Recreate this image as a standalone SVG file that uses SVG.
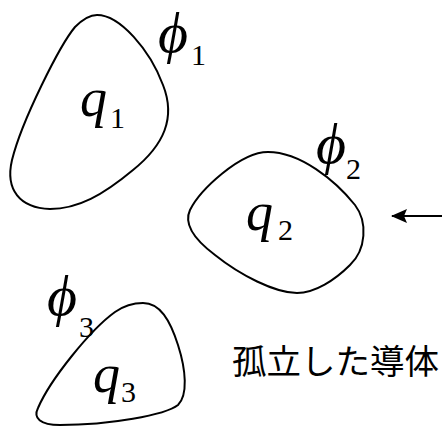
<svg xmlns="http://www.w3.org/2000/svg" width="442" height="426" viewBox="0 0 442 426">
<style>
.shape{fill:none;stroke:#000;stroke-width:2}
.v{font-family:'Liberation Serif','Times New Roman',serif;font-style:italic;fill:#000}
.s{font-family:'Liberation Serif','Times New Roman',serif;fill:#000}
.q{font-size:54px}
.p{font-size:58px}
.sub{font-size:30px}
.jp{font-family:'Noto Sans CJK JP',sans-serif;font-size:34.5px;fill:#000}
</style>
<defs>
<marker id="ah" markerWidth="16" markerHeight="14" refX="15" refY="7" orient="auto" markerUnits="userSpaceOnUse">
<path d="M0,0 L16,7 L0,14 L3,7 Z" fill="#000"/>
</marker>
</defs>
<rect width="442" height="426" fill="#fff"/>
<g id="conductor1">
<path class="shape" d="M97,15 C120,15 150,50 163,85 C176,118 164,145 133,170 C103,195 78,209 50,209 C20,208 5,190 12,160 C22,120 60,45 75,27 C84,18 90,15 97,15 Z"/>
<text class="v q" x="80" y="116">q</text>
<text class="s sub" x="110" y="128">1</text>
<text class="v p" x="158" y="52">ϕ</text>
<text class="s sub" x="191" y="65">1</text>
</g>
<g id="conductor2">
<path class="shape" d="M268,152 C300,152 335,180 355,205 C368,222 366,250 350,265 C335,280 315,293 297,293 C275,293 240,275 215,255 C195,240 183,225 190,210 C200,190 240,152 268,152 Z"/>
<text class="v q" x="246" y="230">q</text>
<text class="s sub" x="278" y="240">2</text>
<text class="v p" x="316" y="163">ϕ</text>
<text class="s sub" x="346" y="179">2</text>
</g>
<g id="conductor3">
<path class="shape" d="M143,303 C160,303 170,320 178,345 C186,370 188,395 178,405 C165,415 110,425 60,425 C40,425 33,418 38,408 C50,380 90,330 115,312 C125,305 135,303 143,303 Z"/>
<text class="v q" x="93" y="392">q</text>
<text class="s sub" x="121" y="402">3</text>
<text class="v p" x="47" y="315">ϕ</text>
<text class="s sub" x="79" y="337">3</text>
</g>
<g id="label">
<text class="jp" x="232" y="374">孤立した導体</text>
</g>
<g id="connectors">
<line x1="442" y1="216" x2="392" y2="216" stroke="#000" stroke-width="2" marker-end="url(#ah)"/>
</g>
</svg>
